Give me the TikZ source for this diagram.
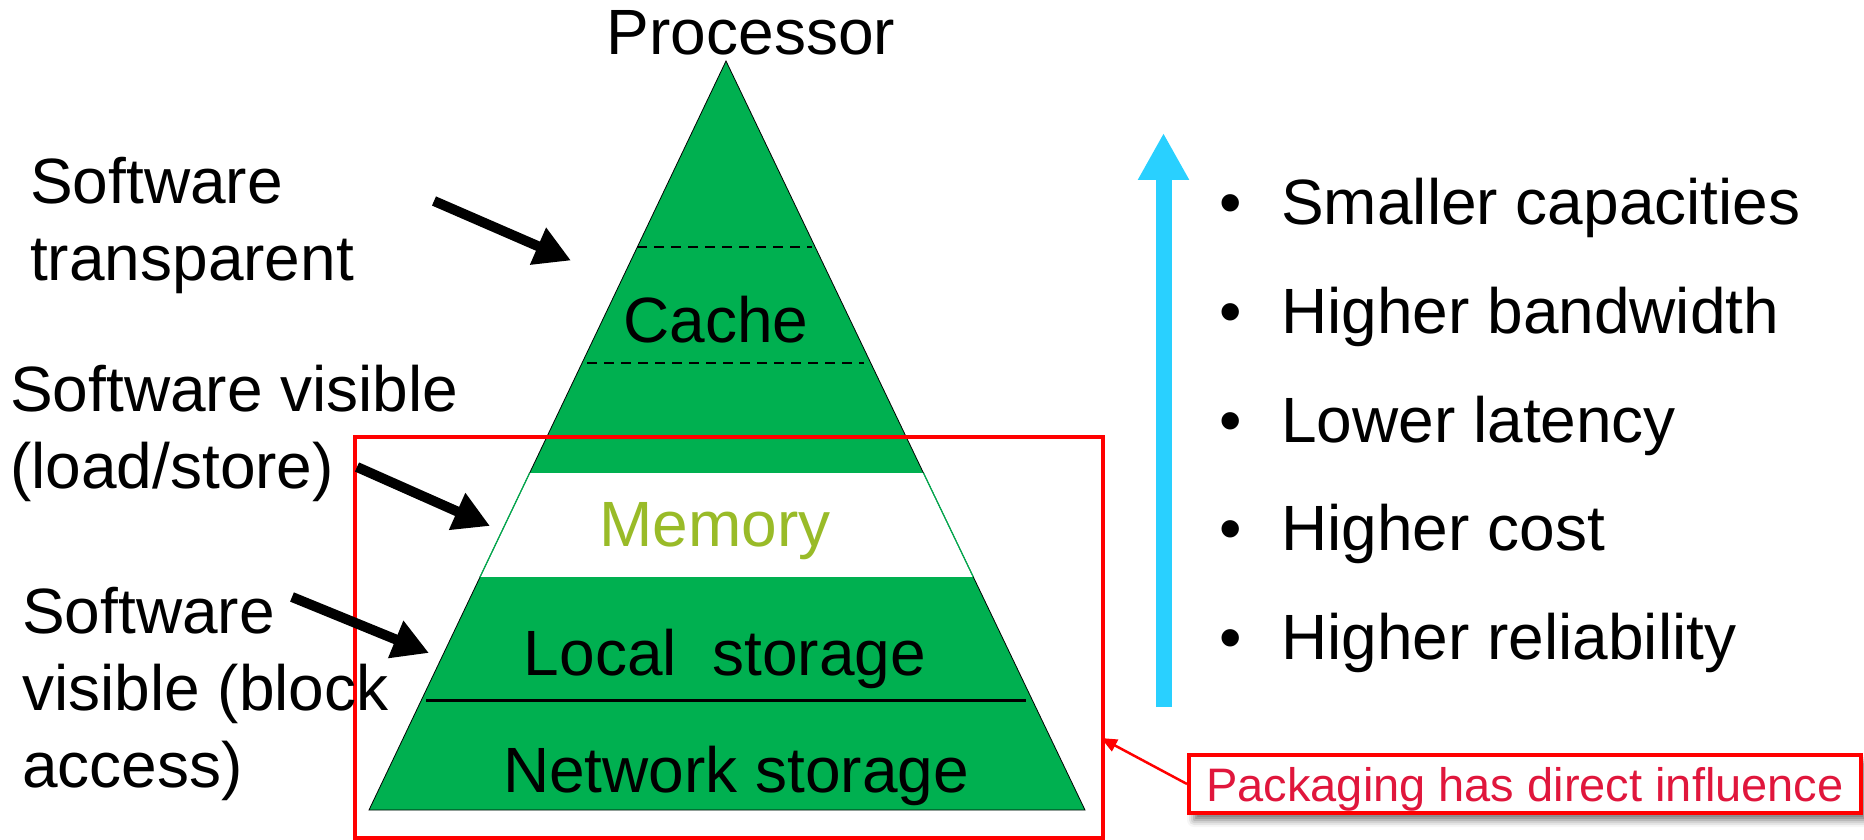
\documentclass[tikz,border=0pt]{standalone}
\usepackage{fontspec}
\setmainfont{Liberation Sans}
\usetikzlibrary{arrows.meta,shadows.blur}
\definecolor{pgreen}{RGB}{0,176,80}
\definecolor{memgreen}{RGB}{153,187,40}
\definecolor{skyblue}{RGB}{41,208,255}
\definecolor{crim}{RGB}{224,22,60}
\newcommand\myBig{\fontsize{64}{77}\selectfont}
\newcommand\mySmall{\fontsize{47}{56}\selectfont}
\tikzset{
  lbl/.style={inner sep=0pt, font=\myBig, align=left},
  tier/.style={inner sep=0pt, font=\myBig},
  bigarrow/.style={line width=10pt, -{Triangle[length=36pt,width=38pt]}},
  tierline/.style={line width=2pt, dash pattern=on 10pt off 7pt},
}
\begin{document}
\begin{tikzpicture}[x=1pt,y=-1pt]
\useasboundingbox (0,0) rectangle (1864,840);
% pyramid
\coordinate (apex) at (726,61);
\coordinate (bl) at (369,810);
\coordinate (br) at (1085,810);
\fill[pgreen] (apex) -- (bl) -- (br) -- cycle;
\begin{scope}
  \clip (apex) -- (bl) -- (br) -- cycle;
  \fill[white] (300,473) rectangle (1150,577);
\end{scope}
\draw[line width=0.8pt] (apex) -- (bl) -- (br) -- cycle;
\draw[pgreen, line width=1.2pt] (529.6,473) -- (480,577);
\draw[pgreen, line width=1.2pt] (923.5,473) -- (973.3,577);
% separators
\coordinate (d1a) at (637,247); \coordinate (d1b) at (812,247);
\coordinate (d2a) at (587,363); \coordinate (d2b) at (864,363);
\coordinate (s1a) at (426,700); \coordinate (s1b) at (1026,700);
\draw[tierline] (d1a) -- (d1b);
\draw[tierline] (d2a) -- (d2b);
\draw[line width=3pt] (s1a) -- (s1b);
% tier texts
\node[tier, anchor=base] (proc) at (751,55) {Processor};
\node[tier, anchor=base] (cache) at (716,342) {Cache};
\node[tier, anchor=base, text=memgreen] (mem) at (715,546) {Memory};
\node[tier, anchor=base] (local) at (725,675) {Local~ storage};
\node[tier, anchor=base] (net) at (736,792) {Network storage};
% red packaging box
\node[draw=red, line width=4pt, minimum width=748pt, minimum height=401pt, inner sep=0pt, anchor=north west] (redbox) at (353,435) {};
% left labels (base anchor = last line)
\node[lbl, anchor=base west] (l1) at (30,280) {Software\\transparent};
\node[lbl, anchor=base west] (l2) at (10,488) {Software visible\\(load/store)};
\node[lbl, anchor=base west] (l3) at (22,787) {Software\\visible (block\\access)};
% black arrows
\coordinate (a1s) at (434,201); \coordinate (a1e) at (571,260.5);
\coordinate (a2s) at (357,467); \coordinate (a2e) at (490,526);
\coordinate (a3s) at (292,597); \coordinate (a3e) at (429,653);
\draw[bigarrow] (a1s) -- (a1e);
\draw[bigarrow] (a2s) -- (a2e);
\draw[bigarrow] (a3s) -- (a3e);
% blue arrow
\coordinate (bs) at (1163.5,707); \coordinate (be) at (1163.5,133);
\draw[skyblue, line width=16pt, -{Triangle[length=47pt,width=48pt]}] (bs) -- (be);
% bullets
\foreach \t/\yy [count=\i] in {Smaller capacities/224, Higher bandwidth/333, Lower latency/442, Higher cost/550, Higher reliability/659}{
  \node[tier, anchor=base] (dot\i) at (1231,\yy) {•};
  \node[tier, anchor=base west] (b\i) at (1281,\yy) {\t};
}
% annotation
\node[draw=red, fill=white, line width=4pt, minimum width=672pt, minimum height=58pt, inner sep=0pt,
      text height=40pt, text depth=6pt, font=\mySmall, text=crim,
      blur shadow={shadow xshift=5pt, shadow yshift=-7pt, shadow blur radius=7pt, shadow opacity=55}] (pkg) at (1525,784) {Packaging has direct influence};
\coordinate (rbE) at (1101,738);
\draw[red, line width=2.5pt, -{Triangle[length=16pt,width=13pt]}] (pkg.west) -- (rbE);
\end{tikzpicture}
\end{document}
